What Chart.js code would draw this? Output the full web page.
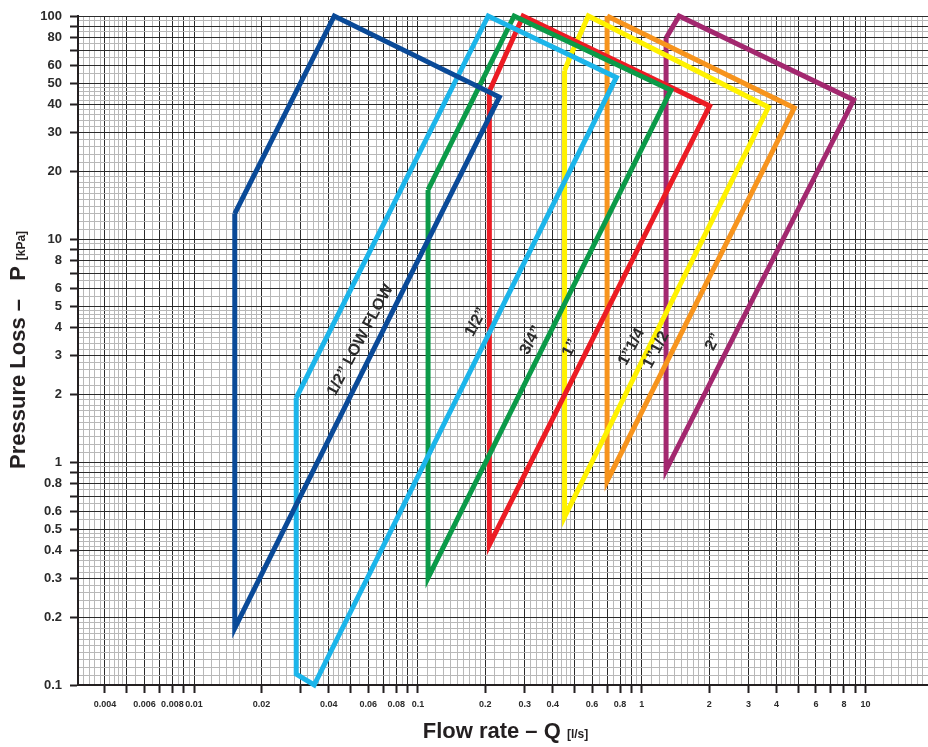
<!DOCTYPE html>
<html><head><meta charset="utf-8">
<script src="https://cdn.jsdelivr.net/npm/chart.js@4.4.1/dist/chart.umd.min.js"></script>
<style>
html,body{margin:0;padding:0;background:#fff;overflow:hidden;}
#wrap{position:relative;width:928px;height:747px;overflow:hidden;}
canvas{position:absolute;left:0;top:0;}
.t{position:absolute;font-family:'Liberation Sans',Arial,sans-serif;font-weight:bold;color:#231f20;white-space:nowrap;}
#xt{left:78px;width:855px;top:718px;text-align:center;font-size:22px;}
#yt{left:18px;top:350px;transform:translate(-50%,-50%) rotate(-90deg);font-size:22px;}
.u{font-size:12px;}
</style></head><body>
<div id="wrap"><canvas id="c" width="933" height="747" style="width:933px;height:747px"></canvas>
<div class="t" id="xt">Flow rate – Q <span class="u">[l/s]</span></div>
<div class="t" id="yt">Pressure Loss –&nbsp;&nbsp; P <span class="u">[kPa]</span></div>
</div>
<script>
// ---- data ----
const seriesNames = ['1/2” LOW FLOW', '1/2”', '3/4”', '1”', '1”1/4', '1”1/2', '2”'];
const seriesColors = ['#0a4a98', '#1cb5ea', '#0b9a48', '#ec1c24', '#fff200', '#f7941d', '#a3286f'];

const lowFlowQ = [0.0152, 0.0423, 0.231, 0.0152, 0.0152];
const lowFlowP = [13, 100, 43.3, 0.18, 13];

const halfQ = [0.0286, 0.206, 0.77, 0.0344, 0.0286, 0.0286];
const halfP = [1.94, 100, 53, 0.1, 0.112, 1.94];

const threeQuarterQ = [0.111, 0.269, 1.35, 0.111, 0.111];
const threeQuarterP = [16.6, 100, 46.5, 0.302, 16.6];

const oneQ = [0.2085, 0.295, 2.01, 0.2085, 0.2085];
const oneP = [46, 100, 39.5, 0.425, 46];

const oneQuarterQ = [0.452, 0.486, 0.577, 3.68, 0.452, 0.452];
const oneQuarterP = [57, 68, 100, 39, 0.568, 57];

const oneHalfQ = [0.70, 4.8, 0.70, 0.70];
const oneHalfP = [100, 38.7, 0.82, 100];

const twoQ = [1.284, 1.468, 8.84, 1.284, 1.284];
const twoP = [79.7, 100, 42, 0.92, 79.7];

// label anchor points (data space)
const labelQ = [0.0553, 0.182, 0.321, 0.48, 0.90, 1.16, 2.09];
const labelP = [3.52, 4.24, 3.52, 3.25, 3.28, 3.18, 3.45];

// axis tick labels
const xTickLabels = [0.004, 0.006, 0.008, 0.01, 0.02, 0.04, 0.06, 0.08, 0.1, 0.2, 0.3, 0.4, 0.6, 0.8, 1, 2, 3, 4, 6, 8, 10];
const yTickLabels = [0.1, 0.2, 0.3, 0.4, 0.5, 0.6, 0.8, 1, 2, 3, 4, 5, 6, 8, 10, 20, 30, 40, 50, 60, 80, 100];
const xMin = 0.00303, xMax = 20, yMin = 0.1, yMax = 100;

// ---- helpers ----
const seriesQ = [lowFlowQ, halfQ, threeQuarterQ, oneQ, oneQuarterQ, oneHalfQ, twoQ];
const seriesP = [lowFlowP, halfP, threeQuarterP, oneP, oneQuarterP, oneHalfP, twoP];

function gridTicks(min, max) {
  const steps = [[1, 10, 0.1], [2, 15, 0.2], [5, 10, 0.5]];
  const out = [];
  for (let e = Math.floor(Math.log10(min)); e <= Math.ceil(Math.log10(max)); e++) {
    const d = Math.pow(10, e);
    for (const [a, n, s] of steps) {
      for (let i = 0; i < n; i++) {
        const m = parseFloat((a + i * s).toPrecision(6));
        const v = parseFloat((m * d).toPrecision(6));
        if (v >= min * 0.99999 && v <= max * 1.00001) {
          out.push({ value: v, major: Math.abs(m - Math.round(m)) < 1e-6 });
        }
      }
    }
  }
  out.sort((p, q) => p.value - q.value);
  return out;
}
const xLabelSet = new Set(xTickLabels);
const yLabelSet = new Set(yTickLabels);

const FONT = "'Liberation Sans',Arial,sans-serif";
const gridColor = c => (c.tick && c.tick.major) ? '#2b2b2b' : '#b8b8b8';
const tickColor = c => (c.tick && c.tick.major) ? '#231f20' : 'rgba(0,0,0,0)';

const labelPlugin = {
  id: 'sizeLabels',
  afterDatasetsDraw(chart) {
    const { ctx, scales: { x, y } } = chart;
    ctx.save();
    ctx.font = "bold 16px 'Liberation Sans', Arial, sans-serif";
    ctx.fillStyle = '#2b2b2b';
    ctx.textAlign = 'center';
    ctx.textBaseline = 'middle';
    seriesNames.forEach((t, i) => {
      ctx.save();
      ctx.translate(x.getPixelForValue(labelQ[i]), y.getPixelForValue(labelP[i]));
      ctx.rotate(-62 * Math.PI / 180);
      ctx.fillText(t, 0, 0);
      ctx.restore();
    });
    ctx.restore();
  }
};

new Chart(document.getElementById('c'), {
  type: 'scatter',
  data: {
    datasets: seriesNames.map((n, i) => ({
      label: n,
      data: seriesQ[i].map((q, k) => ({ x: q, y: seriesP[i][k] })),
      showLine: true,
      borderColor: seriesColors[i],
      backgroundColor: seriesColors[i],
      borderWidth: 5,
      borderJoinStyle: 'miter',
      pointRadius: 0,
      fill: false,
      tension: 0,
      clip: false
    }))
  },
  options: {
    responsive: false,
    animation: false,
    layout: { padding: { left: 0, right: 0, top: 16, bottom: 0 } },
    plugins: { legend: { display: false }, tooltip: { enabled: false } },
    scales: {
      x: {
        type: 'logarithmic', position: 'bottom', min: xMin, max: xMax,
        afterBuildTicks: s => { s.ticks = gridTicks(xMin, xMax); },
        afterFit: s => { s.height = 62; s.paddingLeft = 0; s.paddingRight = 0; },
        ticks: {
          autoSkip: false, maxRotation: 0, minRotation: 0, padding: 6,
          color: '#2b2b2b', font: { family: FONT, size: 9, weight: 'bold' },
          callback: v => xLabelSet.has(v) ? String(v) : ''
        },
        grid: { color: gridColor, lineWidth: 1, tickColor: tickColor, tickLength: 8, tickWidth: 2, drawTicks: true },
        border: { display: true, color: '#231f20', width: 2 }
      },
      y: {
        type: 'logarithmic', position: 'left', min: yMin, max: yMax,
        afterBuildTicks: s => { s.ticks = gridTicks(yMin, yMax); },
        afterFit: s => { s.width = 78; s.paddingTop = 0; s.paddingBottom = 0; },
        ticks: {
          autoSkip: false, padding: 8,
          color: '#2b2b2b', font: { family: FONT, size: 13, weight: 'bold' },
          callback: v => yLabelSet.has(v) ? String(v) : ''
        },
        grid: { color: gridColor, lineWidth: 1, tickColor: tickColor, tickLength: 8, tickWidth: 2, drawTicks: true },
        border: { display: true, color: '#231f20', width: 2 }
      }
    }
  },
  plugins: [labelPlugin]
});
</script>
</body></html>
